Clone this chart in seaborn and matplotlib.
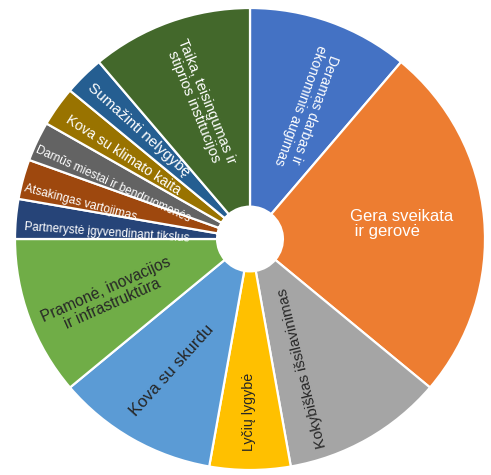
import numpy as np
import seaborn as sns
import matplotlib.pyplot as plt

# slices, clockwise from 12 o'clock (counts)
goals = [
    "Deramas darbas ir\nekonominis augimas",
    "Gera sveikata\n ir gerovė",
    "Kokybiškas išsilavinimas",
    "Lyčių lygybė",
    "Kova su skurdu",
    "Pramonė, inovacijos\nir infrastruktūra",
    "Partnerystė įgyvendinant tikslus",
    "Atsakingas vartojimas",
    "Darnūs miestai ir bendruomenės",
    "Kova su klimato kaita",
    "Sumažinti nelygybę",
    "Taika, teisingumas ir\nstiprios institucijos",
]
counts = [4, 9, 4, 2, 4, 4, 1, 1, 1, 1, 1, 4]
slice_colors = [
    "#4472C4", "#ED7D31", "#A5A5A5", "#FFC000", "#5B9BD5", "#70AD47",
    "#264478", "#9E480E", "#636363", "#997300", "#255E91", "#43682B",
]

# label layout: (polar angle in deg, radius fraction, text rotation, font size, colour, align)
label_layout = [
    (67, 0.62, -110, 10.0, "white", "center"),
    (5.7, 0.65, 0, 12.0, "white", "left"),
    (-68.4, 0.60, 104, 10.8, "#262626", "center"),
    (-90.3, 0.75, 90, 10.3, "#262626", "center"),
    (-120.4, 0.66, 48, 12.2, "#262626", "center"),
    (-157.3, 0.65, 24, 11.2, "#262626", "center"),
    (177.6, 0.61, -4, 8.5, "white", "center"),
    (167.6, 0.74, -14.6, 8.6, "white", "center"),
    (157.8, 0.63, -24.5, 8.4, "white", "center"),
    (146, 0.65, -33, 10.2, "white", "center"),
    (135, 0.67, -42, 11.0, "white", "center"),
    (110, 0.62, -68, 10.5, "white", "center"),
]

sns.set_style("white")
plt.rcParams["font.family"] = ["Liberation Sans", "DejaVu Sans"]

W, H = 491, 475
fig = plt.figure(figsize=(W / 100, H / 100), dpi=100)
cx, cy, rx, ry = 250, 239, 235, 231
ax = fig.add_axes([(cx - rx) / W, (H - cy - ry) / H, 2 * rx / W, 2 * ry / H])

palette = sns.color_palette(slice_colors)
ax.pie(
    counts,
    colors=palette,
    startangle=90,
    counterclock=False,
    radius=1.0,
    wedgeprops={"width": 0.86, "edgecolor": "white", "linewidth": 1.6},
)
ax.set_aspect("auto")
ax.set_xlim(-1, 1)
ax.set_ylim(-1, 1)
ax.axis("off")

for text, (ang, r, rot, size, color, align) in zip(goals, label_layout):
    a = np.deg2rad(ang)
    ax.text(
        r * np.cos(a),
        r * np.sin(a),
        text,
        rotation=rot,
        rotation_mode="anchor",
        ha="center",
        va="center",
        multialignment=align,
        fontsize=size,
        color=color,
        linespacing=1.05,
    )

fig.savefig("out.png", dpi=100)
